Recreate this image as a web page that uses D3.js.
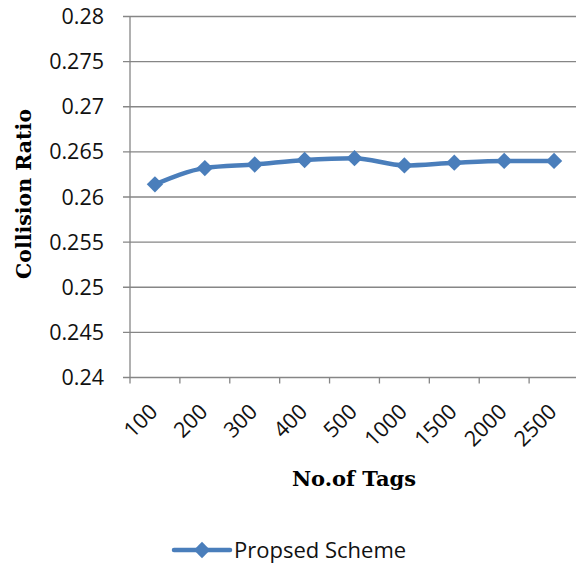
<!DOCTYPE html>
<html>
<head>
<meta charset="utf-8">
<script src="https://cdn.jsdelivr.net/npm/d3@7"></script>
<style>
  body { margin: 0; background: #fff; }
  svg { display: block; }
</style>
</head>
<body>
<div id="chartVis"></div>
<script>
  // data
  var categories = ["100", "200", "300", "400", "500", "1000", "1500", "2000", "2500"];
  var ratios = [0.2614, 0.2632, 0.2636, 0.2641, 0.2643, 0.2635, 0.2638, 0.2640, 0.2640];
  var yTicks = [0.24, 0.245, 0.25, 0.255, 0.26, 0.265, 0.27, 0.275, 0.28];
  var seriesName = "Propsed Scheme";

  var width = 576;
  var height = 565;
  var margin = { top: 16.5, left: 130, bottom: 377.5, right: 579 };

  var blue = "#4a7ebb";
  var grey = "#868686";
  var labelFont = "'Open Sans', 'Noto Sans', sans-serif";
  var titleFont = "'DejaVu Serif', 'Liberation Serif', serif";

  var svg = d3.select("#chartVis")
    .append("svg")
    .attr("width", width)
    .attr("height", height);

  var x = d3.scaleBand().domain(categories).range([margin.left, margin.right]);
  var y = d3.scaleLinear().domain([0.24, 0.28]).range([margin.bottom, margin.top]);

  // horizontal gridlines + little tick stubs on the left
  svg.append("g").selectAll("line").data(yTicks).enter()
    .append("line")
    .attr("x1", margin.left - 7)
    .attr("x2", margin.right)
    .attr("y1", (d) => y(d))
    .attr("y2", (d) => y(d))
    .attr("stroke", grey)
    .attr("stroke-width", 1.3);

  // y axis line
  svg.append("line")
    .attr("x1", margin.left).attr("x2", margin.left)
    .attr("y1", margin.top).attr("y2", margin.bottom)
    .attr("stroke", grey).attr("stroke-width", 1.3);

  // x tick marks at category boundaries
  var bounds = categories.map((c) => x(c));
  svg.append("g").selectAll("line").data(bounds).enter()
    .append("line")
    .attr("x1", (d) => d).attr("x2", (d) => d)
    .attr("y1", margin.bottom).attr("y2", margin.bottom + 6)
    .attr("stroke", grey).attr("stroke-width", 1.3);

  // y tick labels
  svg.append("g").selectAll("text").data(yTicks).enter()
    .append("text")
    .attr("x", 104)
    .attr("y", (d) => y(d) + 7.5)
    .attr("text-anchor", "end")
    .attr("font-family", labelFont)
    .attr("font-size", 21.5)
    .attr("fill", "#111")
    .text((d) => d);

  // x tick labels, rotated
  svg.append("g").selectAll("text").data(categories).enter()
    .append("text")
    .attr("transform", (d) => "translate(" + (x(d) + x.bandwidth() / 2 + 4) + "," + 413 + ") rotate(-45)")
    .attr("text-anchor", "end")
    .attr("font-family", labelFont)
    .attr("font-size", 21.5)
    .attr("fill", "#111")
    .text((d) => d);

  // series line
  var line = d3.line()
    .x((d, i) => x(categories[i]) + x.bandwidth() / 2)
    .y((d) => y(d))
    .curve(d3.curveMonotoneX);

  svg.append("path")
    .datum(ratios)
    .attr("d", line)
    .attr("fill", "none")
    .attr("stroke", blue)
    .attr("stroke-width", 4.5)
    .attr("stroke-linejoin", "round");

  var diamond = d3.symbol().type(d3.symbolDiamond2).size(170);

  svg.append("g").selectAll("path").data(ratios).enter()
    .append("path")
    .attr("d", diamond)
    .attr("transform", (d, i) => "translate(" + (x(categories[i]) + x.bandwidth() / 2) + "," + y(d) + ")")
    .attr("fill", blue);

  // axis titles
  svg.append("text")
    .attr("transform", "translate(31," + 194 + ") rotate(-90)")
    .attr("text-anchor", "middle")
    .attr("font-family", titleFont)
    .attr("font-weight", "bold")
    .attr("font-size", 20.5)
    .text("Collision Ratio");

  svg.append("text")
    .attr("x", 354)
    .attr("y", 486)
    .attr("text-anchor", "middle")
    .attr("font-family", titleFont)
    .attr("font-weight", "bold")
    .attr("font-size", 21)
    .text("No.of Tags");

  // legend
  var legend = svg.append("g").attr("transform", "translate(0,550)");
  legend.append("line")
    .attr("x1", 174).attr("x2", 230)
    .attr("y1", 0).attr("y2", 0)
    .attr("stroke", blue).attr("stroke-width", 4.5)
    .attr("stroke-linecap", "round");
  legend.append("path")
    .attr("d", diamond)
    .attr("transform", "translate(202,0)")
    .attr("fill", blue);
  legend.append("text")
    .attr("x", 234)
    .attr("y", 8)
    .attr("font-family", labelFont)
    .attr("font-size", 22)
    .attr("fill", "#111")
    .text(seriesName);
</script>
</body>
</html>
